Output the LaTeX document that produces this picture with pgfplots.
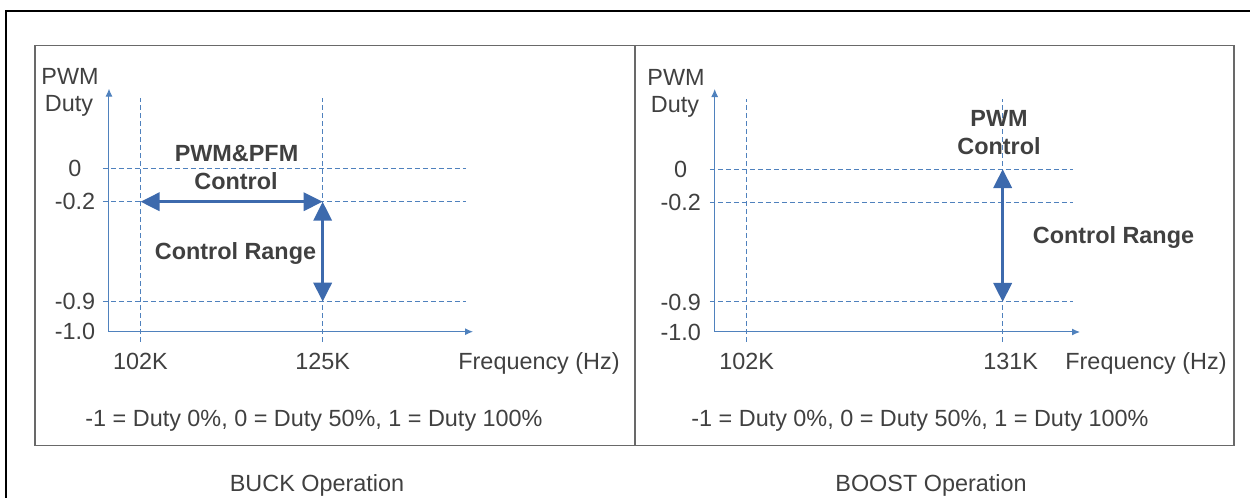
\documentclass[border=0pt]{standalone}
\usepackage{fontspec}
\setmainfont{Liberation Sans}
\usepackage{pgfplots}
\pgfplotsset{compat=1.18}
\usetikzlibrary{arrows.meta}
\definecolor{axblue}{RGB}{79,129,189}
\definecolor{arblue}{RGB}{61,106,173}
\definecolor{txt}{RGB}{64,64,64}
\definecolor{panel}{RGB}{105,105,105}
\pgfplotsset{
  schem/.style={
    scale only axis, height=121.5pt,
    axis lines=left, enlargelimits=false, clip=false,
    axis line style={draw=axblue, line width=0.5pt, -{Latex[length=4pt,width=3.5pt]}},
    major tick length=0pt,
    ymin=-1, ymax=0.485,
    y coord trafo/.code={\pgfmathparse{(##1<-0.9)?(300*(##1+1)):((##1<-0.2)?(30+(##1+0.9)*142.857):(130+(##1+0.2)*165))}},
    y coord inv trafo/.code={\pgfmathparse{(##1<30)?(##1/300-1):((##1<130)?(-0.9+(##1-30)*0.007):(-0.2+(##1-130)/165))}},
    ytick={-1,-0.9,-0.2,0}, yticklabels={-1.0,-0.9,-0.2,0},
    yticklabel style={anchor=center, xshift=-17pt, text=txt},
    xticklabel style={anchor=base, yshift=-19pt, text=txt},
  },
  guide/.style={axblue, line width=0.5pt, dash pattern=on 2.5pt off 1.5pt},
  ctrl/.style={arblue, line width=1.7pt, {Triangle[length=9.5pt,width=9pt]}-{Triangle[length=9.5pt,width=9pt]}},
}
\begin{document}
\fontsize{11.7}{14}\selectfont
\begin{tikzpicture}
\useasboundingbox (0,0) rectangle (625pt,249pt);
\begin{scope}[x=0.5pt,y=0.5pt]
  \draw[black, line width=1pt] (6,-10) -- (6,487) -- (1270,487);
  \draw[panel, line width=0.7pt] (35,52.3) rectangle (635,452.5);
  \draw[panel, line width=0.7pt] (635,52.3) rectangle (1234,452.5);
\end{scope}

% BUCK
\begin{axis}[schem, at={(54.5pt,83.15pt)}, anchor=south west, width=182pt,
  xmin=98.02, xmax=143.98, xtick={102,125}, xticklabels={102K,125K}]
  \addplot[guide] coordinates {(97.26,0) (143.1,0)};
  \addplot[guide] coordinates {(97.26,-0.2) (143.1,-0.2)};
  \addplot[guide] coordinates {(97.26,-0.9) (143.1,-0.9)};
  \addplot[guide] coordinates {(102,-1.0333) (102,0.4267)};
  \addplot[guide] coordinates {(125,-1.0333) (125,0.4267)};
  \addplot[ctrl] coordinates {(102,-0.2) (125,-0.2)};
  \addplot[ctrl] coordinates {(125,-0.2) (125,-0.9)};
\end{axis}

% BOOST
\begin{axis}[schem, at={(357.35pt,83pt)}, anchor=south west, width=182.65pt,
  xmin=98.375, xmax=139.76, xtick={102,131}, xticklabels={102K,\hspace*{8pt}131K}]
  \addplot[guide] coordinates {(97.84,0) (138.96,0)};
  \addplot[guide] coordinates {(97.84,-0.2) (138.96,-0.2)};
  \addplot[guide] coordinates {(97.84,-0.9) (138.96,-0.9)};
  \addplot[guide] coordinates {(102,-1.0333) (102,0.4267)};
  \addplot[guide] coordinates {(131,-1.0333) (131,0.4267)};
  \addplot[ctrl] coordinates {(131,0) (131,-0.9)};
\end{axis}

\begin{scope}[x=0.5pt,y=0.5pt, every node/.style={text=txt, inner sep=0pt}]
  \node[anchor=base] at (70,413) {PWM};
  \node[anchor=base] at (69,386) {Duty};
  \node[anchor=base] at (676,412) {PWM};
  \node[anchor=base] at (675,385) {Duty};
  \node[anchor=base, font=\bfseries] at (236.5,336) {PWM\&PFM};
  \node[anchor=base, font=\bfseries] at (236,308) {Control};
  \node[anchor=base, font=\bfseries] at (235.5,238) {Control Range};
  \node[anchor=base, font=\bfseries] at (999,371.3) {PWM};
  \node[anchor=base, font=\bfseries] at (999,343) {Control};
  \node[anchor=base, font=\bfseries] at (1113.5,254) {Control Range};
  \node[anchor=base west] at (458,128) {Frequency (Hz)};
  \node[anchor=base west] at (1065,128) {Frequency (Hz)};
  \node[anchor=base] at (314,71) {-1 = Duty 0\%, 0 = Duty 50\%, 1 = Duty 100\%};
  \node[anchor=base] at (920,71) {-1 = Duty 0\%, 0 = Duty 50\%, 1 = Duty 100\%};
  \node[anchor=base] at (317,6.5) {BUCK Operation};
  \node[anchor=base] at (931,6.5) {BOOST Operation};
\end{scope}
\end{tikzpicture}
\end{document}
